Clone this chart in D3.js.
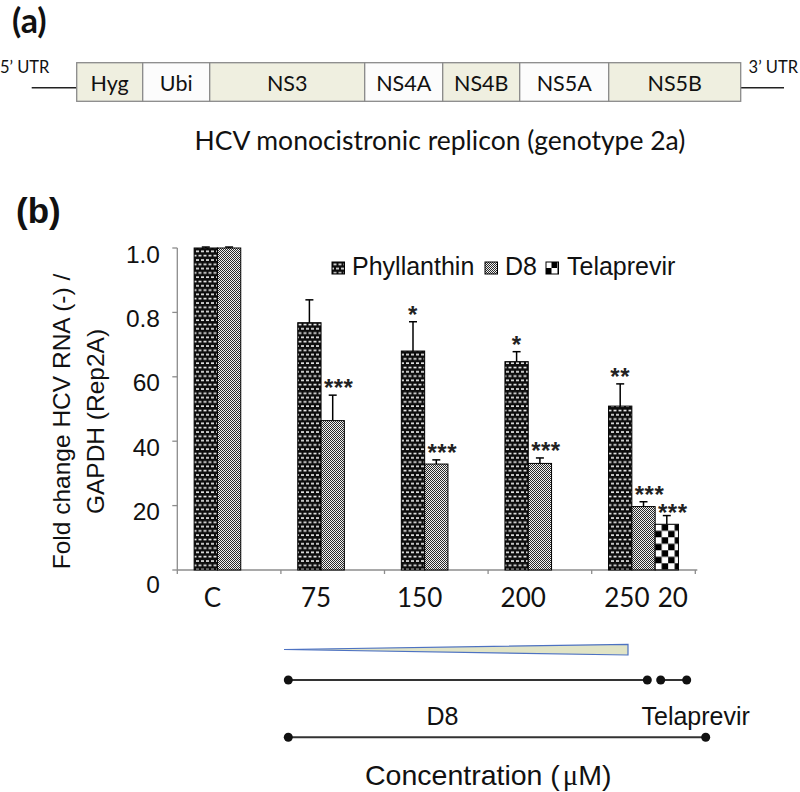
<!DOCTYPE html>
<html><head><meta charset="utf-8">
<script src="https://cdn.jsdelivr.net/npm/d3@7"></script>
<style>body{margin:0;background:#fff}</style>
</head><body><svg id="c" width="800" height="792"></svg>
<script>
// ---------- data ----------
const categories = ["C", "75", "150", "200", "250"];
const seriesNames = ["Phyllanthin", "D8", "Telaprevir"];
const phyllanthin = [1.0, 0.768, 0.680, 0.647, 0.509];
const phyllanthinErr = [0.003, 0.071, 0.091, 0.031, 0.069];
const d8 = [1.0, 0.464, 0.329, 0.331, 0.197];
const d8Err = [0.003, 0.079, 0.013, 0.017, 0.015];
const telaprevir = [null, null, null, null, 0.142];
const telaprevirErr = [null, null, null, null, 0.027];
const phyllanthinSig = ["", "", "*", "*", "**"];
const d8Sig = ["", "***", "***", "***", "***"];
const telaprevirSig = ["", "", "", "", "***"];
const yTickValues = [0, 0.2, 0.4, 0.6, 0.8, 1.0];
const yTickLabels = ["0", "20", "40", "60", "0.8", "1.0"];
const xTickLabels = ["C", "75", "150", "200", "250"];
const telaprevirDose = "20";
const genes = ["Hyg", "Ubi", "NS3", "NS4A", "NS4B", "NS5A", "NS5B"];
const geneLengths = [66, 67, 155, 78, 77, 89, 132];
const geneShaded = [true, false, true, false, true, false, true];

// ---------- setup ----------
const svg = d3.select("#c");
const ARIAL = "'Liberation Sans', Arial, sans-serif";
const CAL = "Lato, 'Open Sans', sans-serif";

// patterns
const defs = svg.append("defs");
const pPhy = defs.append("pattern").attr("id", "pPhy").attr("patternUnits", "userSpaceOnUse")
  .attr("width", 5).attr("height", 8.6);
pPhy.append("rect").attr("width", 5).attr("height", 8.6).attr("fill", "#0d0d0d");
[[1, 1.2, 3], [3.5, 5.5, 1.5], [0, 5.5, 1.5]].forEach(([x, y, w]) =>
  pPhy.append("rect").attr("x", x).attr("y", y).attr("width", w).attr("height", 1.6).attr("fill", "#f0f0f0"));
const pD8 = defs.append("pattern").attr("id", "pD8").attr("patternUnits", "userSpaceOnUse")
  .attr("width", 2).attr("height", 2);
pD8.append("rect").attr("width", 2).attr("height", 2).attr("fill", "#f2f2f2");
pD8.append("rect").attr("x", 0).attr("y", 0).attr("width", 1).attr("height", 1).attr("fill", "#2a2a2a");
pD8.append("rect").attr("x", 1).attr("y", 1).attr("width", 1).attr("height", 1).attr("fill", "#2a2a2a");
function checker(id, x0, y0, s) {
  const p = defs.append("pattern").attr("id", id).attr("patternUnits", "userSpaceOnUse")
    .attr("x", x0).attr("y", y0).attr("width", 2 * s).attr("height", 2 * s);
  p.append("rect").attr("width", 2 * s).attr("height", 2 * s).attr("fill", "#fff");
  p.append("rect").attr("x", s).attr("y", 0).attr("width", s).attr("height", s).attr("fill", "#000");
  p.append("rect").attr("x", 0).attr("y", s).attr("width", s).attr("height", s).attr("fill", "#000");
}

// ---------- panel (a) ----------
svg.append("text").attr("x", 12).attr("y", 33).attr("font-family", CAL).attr("font-weight", "bold")
  .attr("font-size", 34).attr("fill", "#111").text("(a)");

const total = d3.sum(geneLengths);
const gx = d3.scaleLinear().domain([0, total]).range([76.7, 740.7]);
const cum = d3.cumsum([0].concat(geneLengths));
const boxTop = 62.7, boxH = 38.6;
svg.append("line").attr("x1", 31.7).attr("x2", gx(0)).attr("y1", 87.7).attr("y2", 87.7)
  .attr("stroke", "#222").attr("stroke-width", 1.5);
svg.append("line").attr("x1", gx(total)).attr("x2", 784).attr("y1", 87.7).attr("y2", 87.7)
  .attr("stroke", "#222").attr("stroke-width", 1.5);
const g = svg.append("g");
genes.forEach((name, i) => {
  g.append("rect").attr("x", gx(cum[i])).attr("y", boxTop).attr("width", gx(cum[i + 1]) - gx(cum[i]))
    .attr("height", boxH).attr("fill", geneShaded[i] ? "#efefe0" : "#fcfcfc")
    .attr("stroke", "#8a8a8a").attr("stroke-width", 1.3);
  g.append("text").attr("x", (gx(cum[i]) + gx(cum[i + 1])) / 2).attr("y", 91)
    .attr("text-anchor", "middle").attr("font-family", CAL).attr("font-size", 21.5).attr("fill", "#111").text(name);
});
svg.append("text").attr("x", 0).attr("y", 73).attr("font-family", CAL).attr("font-size", 16.5).attr("fill", "#111").text("5’ UTR");
svg.append("text").attr("x", 798).attr("y", 73).attr("text-anchor", "end").attr("font-family", CAL).attr("font-size", 16.5).attr("fill", "#111").text("3’ UTR");
svg.append("text").attr("x", 440).attr("y", 150).attr("text-anchor", "middle").attr("font-family", CAL)
  .attr("font-size", 26.5).attr("fill", "#111").text("HCV monocistronic replicon (genotype 2a)");

// ---------- panel (b) ----------
svg.append("text").attr("x", 16).attr("y", 223).attr("font-family", ARIAL).attr("font-weight", "bold")
  .attr("font-size", 35).attr("fill", "#111").text("(b)");

const x = d3.scaleBand().domain(categories).range([177.3, 695.3]).padding(0);
const xs = d3.scaleBand().domain(seriesNames).range([0, x.bandwidth()]).paddingInner(0).paddingOuter(0.723);
const y = d3.scaleLinear().domain([0, 1]).range([570, 248]);

// axes
const axisCol = "#8c8c8c";
svg.append("line").attr("x1", x.range()[0]).attr("x2", x.range()[0]).attr("y1", y(0)).attr("y2", y(1))
  .attr("stroke", axisCol).attr("stroke-width", 1.3);
svg.selectAll(".yt").data(yTickValues).join("line")
  .attr("x1", x.range()[0] - 5).attr("x2", x.range()[0]).attr("y1", d => y(d)).attr("y2", d => y(d))
  .attr("stroke", axisCol).attr("stroke-width", 1.3);
svg.selectAll(".ytl").data(yTickValues).join("text")
  .attr("x", 160).attr("y", d => y(d) + (d === 0 ? 22.5 : 14.5))
  .attr("text-anchor", "end").attr("font-family", ARIAL).attr("font-size", 24.5).attr("fill", "#111")
  .text((d, i) => yTickLabels[i]);
svg.append("line").attr("x1", x.range()[0]).attr("x2", x.range()[1] + 2).attr("y1", y(0)).attr("y2", y(0))
  .attr("stroke", axisCol).attr("stroke-width", 1.3);
svg.selectAll(".xt").data(categories.map((c, i) => x.range()[0] + x.step() * (i + 1)).concat([x.range()[0]]))
  .join("line").attr("x1", d => d).attr("x2", d => d).attr("y1", y(0)).attr("y2", y(0) + 4)
  .attr("stroke", axisCol).attr("stroke-width", 1.3);

// y title
const yt = svg.append("text").attr("transform", "translate(0,421.5) rotate(-90)")
  .attr("text-anchor", "middle").attr("font-family", ARIAL).attr("font-size", 24.5).attr("fill", "#111");
yt.append("tspan").attr("x", 0).attr("y", 70).text("Fold change HCV RNA (-) /");
yt.append("tspan").attr("x", 0).attr("y", 104).text("GAPDH (Rep2A)");

// bars
const seriesData = [
  { name: "Phyllanthin", vals: phyllanthin, errs: phyllanthinErr, sig: phyllanthinSig, fill: "url(#pPhy)" },
  { name: "D8", vals: d8, errs: d8Err, sig: d8Sig, fill: "url(#pD8)" },
  { name: "Telaprevir", vals: telaprevir, errs: telaprevirErr, sig: telaprevirSig, fill: "url(#pTel)" }
];
const bars = [];
seriesData.forEach(s => s.vals.forEach((v, i) => {
  if (v == null) return;
  bars.push({ s, cat: categories[i], v, e: s.errs[i], sig: s.sig[i] });
}));
bars.forEach(b => {
  b.x0 = x(b.cat) + xs(b.s.name);
  b.w = xs.bandwidth();
  if (b.s.name === "Telaprevir") checker("pTel", b.x0, y(b.v), 6.5);
});
const gb = svg.append("g");
gb.selectAll("rect").data(bars).join("rect")
  .attr("x", d => d.x0).attr("y", d => y(d.v)).attr("width", d => d.w).attr("height", d => y(0) - y(d.v))
  .attr("fill", d => d.s.fill).attr("stroke", "#000").attr("stroke-width", 1);
// error bars
gb.selectAll(".ev").data(bars).join("line")
  .attr("x1", d => d.x0 + d.w / 2).attr("x2", d => d.x0 + d.w / 2)
  .attr("y1", d => y(d.v)).attr("y2", d => y(d.v + d.e)).attr("stroke", "#000").attr("stroke-width", 1.5);
gb.selectAll(".ec").data(bars).join("line")
  .attr("x1", d => d.x0 + d.w / 2 - 4).attr("x2", d => d.x0 + d.w / 2 + 4)
  .attr("y1", d => y(d.v + d.e)).attr("y2", d => y(d.v + d.e)).attr("stroke", "#000").attr("stroke-width", 1.5);
// significance
gb.selectAll(".sig").data(bars.filter(d => d.sig)).join("text")
  .attr("x", d => d.x0 + d.w / 2 + (d.sig.length === 3 ? 6 : 0))
  .attr("y", d => y(d.v + d.e) - (d.s.name === "Telaprevir" ? 9 : 13) + 14)
  .attr("text-anchor", "middle").attr("font-family", ARIAL).attr("font-weight", "bold")
  .attr("font-size", 24).attr("letter-spacing", 0.5).attr("fill", "#222").text(d => d.sig);

// x labels
svg.selectAll(".xl").data(xTickLabels).join("text")
  .attr("x", (d, i) => x(categories[i]) + xs("D8") - 5).attr("y", 607)
  .attr("text-anchor", "middle").attr("font-family", CAL).attr("font-size", 26).attr("fill", "#111").text(d => d);
svg.append("text").attr("x", x(categories[4]) + xs("Telaprevir") + xs.bandwidth() / 2 + 6).attr("y", 607)
  .attr("text-anchor", "middle").attr("font-family", CAL).attr("font-size", 26).attr("fill", "#111").text(telaprevirDose);

// legend
const legendFills = ["url(#pPhy)", "url(#pD8)", "url(#pTelL)"];
checker("pTelL", 545.5, 262, 6);
const legX = [332, 485, 546], legTX = [352, 505, 567];
seriesNames.forEach((n, i) => {
  svg.append("rect").attr("x", legX[i]).attr("y", 262).attr("width", 12.5).attr("height", 12)
    .attr("fill", legendFills[i]).attr("stroke", "#000").attr("stroke-width", 1);
  svg.append("text").attr("x", legTX[i]).attr("y", 275).attr("font-family", ARIAL).attr("font-size", 25)
    .attr("fill", "#111").text(n);
});

// ---------- concentration diagram ----------
svg.append("polygon").attr("points", "284,649.5 628,644.3 628,655")
  .attr("fill", "#e1e4c6").attr("stroke", "#4d72c2").attr("stroke-width", 1.2);
const lineCol = "#333";
function seg(x1, x2, yy) {
  svg.append("line").attr("x1", x1).attr("x2", x2).attr("y1", yy).attr("y2", yy)
    .attr("stroke", lineCol).attr("stroke-width", 2);
  [x1, x2].forEach(cx => svg.append("circle").attr("cx", cx).attr("cy", yy).attr("r", 4.5).attr("fill", "#111"));
}
seg(288.3, 647.3, 680);
seg(660.7, 686.7, 680);
seg(288.3, 705.7, 737.3);
svg.append("text").attr("x", 442.5).attr("y", 725).attr("text-anchor", "middle").attr("font-family", ARIAL)
  .attr("font-size", 25).attr("fill", "#111").text("D8");
svg.append("text").attr("x", 641.5).attr("y", 725).attr("font-family", ARIAL)
  .attr("font-size", 25).attr("fill", "#111").text("Telaprevir");
const ct = svg.append("text").attr("x", 365).attr("y", 785).attr("font-family", ARIAL)
  .attr("font-size", 28.5).attr("fill", "#111");
ct.append("tspan").text("Concentration (");
ct.append("tspan").attr("font-family", "'Liberation Serif', 'DejaVu Serif', serif").attr("dx", 3).text("μ");
ct.append("tspan").text("M)");
</script></body></html>
